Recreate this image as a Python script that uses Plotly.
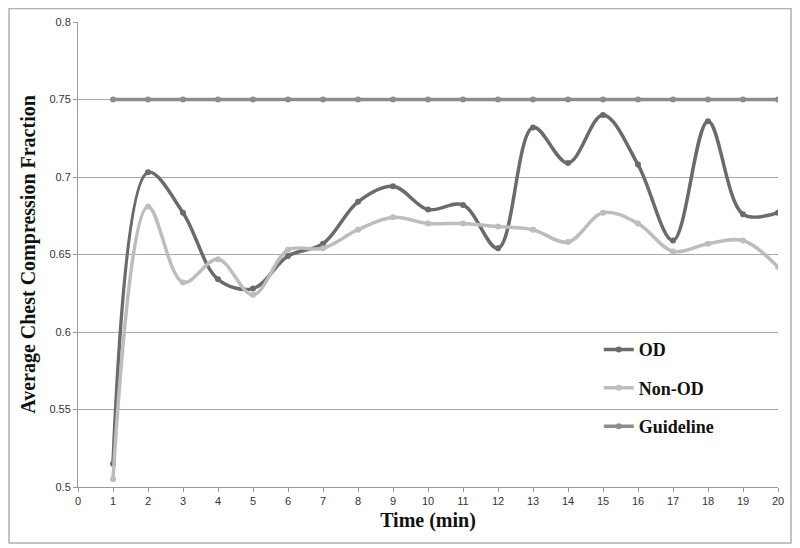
import plotly.graph_objects as go

# Data
minutes = list(range(1, 21))
od = [0.515, 0.703, 0.677, 0.634, 0.628, 0.649, 0.657, 0.684, 0.694, 0.679,
      0.682, 0.654, 0.732, 0.709, 0.740, 0.708, 0.659, 0.736, 0.676, 0.677]
non_od = [0.505, 0.681, 0.632, 0.647, 0.624, 0.653, 0.654, 0.666, 0.674, 0.670,
          0.670, 0.668, 0.666, 0.658, 0.677, 0.670, 0.652, 0.657, 0.659, 0.642]
guideline = [0.75] * 20

y_ticks = [0.5, 0.55, 0.6, 0.65, 0.7, 0.75, 0.8]
y_labels = ["0.5", "0.55", "0.6", "0.65", "0.7", "0.75", "0.8"]
x_ticks = list(range(0, 21))

serif = "Liberation Serif"
sans = "Liberation Sans"

fig = go.Figure()
series = [("OD", od, "#6b6b6b"), ("Non-OD", non_od, "#bdbdbd"), ("Guideline", guideline, "#8c8c8c")]
for name, vals, col in series:
    fig.add_trace(go.Scatter(
        x=minutes, y=vals, name="<b>" + name + "</b>", legendgroup=name,
        mode="lines+markers",
        line=dict(color=col, width=3.5, shape="spline", smoothing=1.0),
        marker=dict(color=col, size=6),
    ))

# page body has an 8px margin, so the figure is sized to fit the window
fig.update_layout(
    width=792, height=540,
    margin=dict(l=70, r=22, t=14, b=61),
    paper_bgcolor="white", plot_bgcolor="white",
    showlegend=True,
    legend=dict(x=0.744, y=0.335, xanchor="left", yanchor="top",
                bgcolor="rgba(0,0,0,0)", tracegroupgap=12,
                font=dict(family=serif, size=18, color="#111")),
    xaxis=dict(range=[0, 20], tickvals=x_ticks, showgrid=False, zeroline=False,
               automargin=False,
               showline=True, linecolor="#9a9a9a", linewidth=1,
               ticks="outside", ticklen=4, tickcolor="#9a9a9a",
               tickfont=dict(family=sans, size=11, color="#333"),
               title=dict(text="<b>Time (min)</b>", standoff=6,
                          font=dict(family=serif, size=20, color="#111"))),
    yaxis=dict(range=[0.5, 0.8], tickvals=y_ticks, ticktext=y_labels,
               showgrid=True, gridcolor="#a8a8a8", gridwidth=1, zeroline=False,
               automargin=False,
               showline=True, linecolor="#9a9a9a", linewidth=1,
               ticks="outside", ticklen=4, tickcolor="#9a9a9a",
               tickfont=dict(family=sans, size=11, color="#333"),
               title=dict(text="<b>Average Chest Compression Fraction</b>", standoff=8,
                          font=dict(family=serif, size=20, color="#111"))),
    shapes=[dict(type="rect", xref="paper", yref="paper",
                 x0=-0.0985, x1=1.0186, y0=-0.1204, y1=1.029,
                 line=dict(color="#b0b0b0", width=1.5), layer="below")],
)

fig.write_html("out.html")
